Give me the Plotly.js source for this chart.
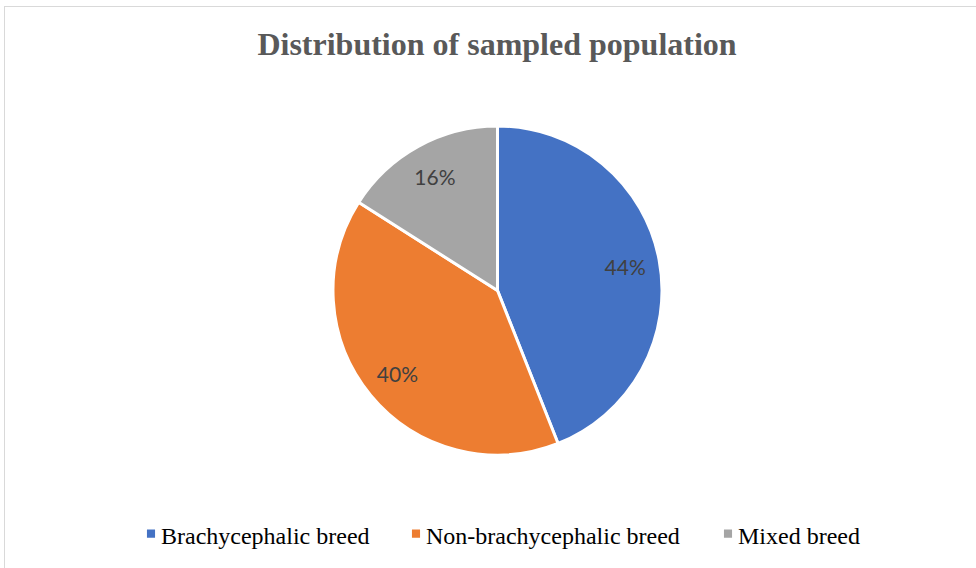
<!DOCTYPE html>
<html>
<head>
<meta charset="utf-8">
<script src="https://cdn.plot.ly/plotly-3.0.1.min.js"></script>
<style>
  html, body { margin: 0; padding: 0; background: #ffffff; overflow: hidden; }
  #frame { position: absolute; left: 4px; top: 6px; width: 990px; height: 600px; border: 1.5px solid #d9d9d9; box-sizing: border-box; pointer-events: none; z-index: 5; }
  #chart { position: absolute; left: 0; top: 0; width: 976px; height: 568px; }
</style>
</head>
<body>
<div id="chart"></div>
<div id="frame"></div>
<script>
const categories = ["Brachycephalic breed", "Non-brachycephalic breed", "Mixed breed"];
const shares = [44, 40, 16];
const sliceColors = ["#4472C4", "#ED7D31", "#A5A5A5"];
const chartTitle = "Distribution of sampled population";

// legend text start positions (px) matching the reference layout
const legendTextLeft = [161, 426, 738];

const slices = {
  type: "pie",
  labels: categories,
  values: shares,
  sort: false,
  direction: "clockwise",
  rotation: 0,
  marker: { colors: sliceColors, line: { color: "#ffffff", width: 3 } },
  textinfo: "none",
  hoverinfo: "none"
};

// transparent ring carrying the percentage labels at ~0.79 of the radius
const labelRing = {
  type: "pie",
  labels: categories,
  values: shares,
  sort: false,
  direction: "clockwise",
  rotation: 0,
  hole: 0.58,
  showlegend: false,
  marker: { colors: ["rgba(0,0,0,0)", "rgba(0,0,0,0)", "rgba(0,0,0,0)"], line: { width: 0 } },
  textinfo: "percent",
  texttemplate: "%{percent:.0%}",
  textposition: "inside",
  insidetextorientation: "horizontal",
  insidetextfont: { family: "Lato, 'Open Sans', sans-serif", size: 21, color: "#404040" },
  hoverinfo: "none"
};

const layout = {
  width: 976,
  height: 568,
  margin: { l: 19, r: 0, t: 126, b: 113, autoexpand: false },
  paper_bgcolor: "#ffffff",
  title: {
    text: "<b>" + chartTitle + "</b>",
    font: { family: "'Liberation Serif', 'Times New Roman', serif", size: 32, color: "#595959" },
    x: 497 / 976, xref: "container", xanchor: "center",
    y: 1 - 44 / 568, yref: "container", yanchor: "middle"
  },
  showlegend: true,
  legend: {
    orientation: "h",
    x: 0.516, xref: "container", xanchor: "center",
    y: 1 - 535 / 568, yref: "container", yanchor: "middle",
    font: { family: "'Liberation Serif', 'Times New Roman', serif", size: 24, color: "#000000" },
    traceorder: "normal"
  }
};

Plotly.newPlot("chart", [slices, labelRing], layout, { displayModeBar: false, staticPlot: true }).then(function (gd) {
  // tighten legend: small square markers right before each label, like the reference
  const items = gd.querySelectorAll(".legend .traces");
  items.forEach(function (g, i) {
    const txt = g.querySelector("text.legendtext");
    const pts = g.querySelector(".legendpoints");
    if (!txt || !pts) return;
    const tr = txt.getBoundingClientRect();
    const target = legendTextLeft[i];
    const dx = target - tr.left;
    const m = /translate\(([-\d.]+)[ ,]+([-\d.]+)\)/.exec(g.getAttribute("transform") || "");
    const gx = m ? parseFloat(m[1]) : 0, gy = m ? parseFloat(m[2]) : 0;
    g.setAttribute("transform", "translate(" + (gx + dx) + "," + gy + ")");
    const txtX = parseFloat(txt.getAttribute("x")) || 40;
    pts.setAttribute("transform", "translate(" + (txtX - 10) + ",-1) scale(0.9)");
    pts.querySelectorAll("path").forEach(function (p) {
      const t = p.getAttribute("transform") || "";
      p.setAttribute("transform", t.replace(/translate\([^)]*\)/, "translate(0,0)"));
    });
  });
});
</script>
</body>
</html>
